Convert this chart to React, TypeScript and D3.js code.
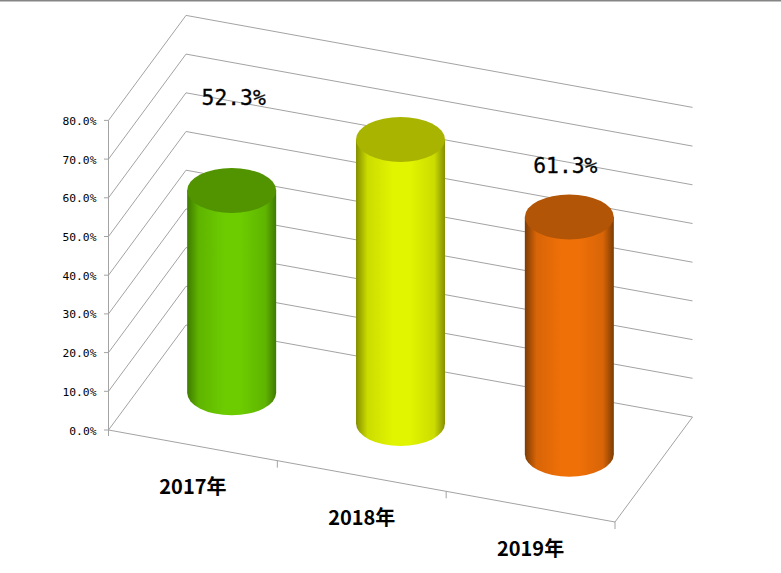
import React from "react";
import * as d3 from "d3";

const categories = ["2017年", "2018年", "2019年"];
const values = [52.3, 73.4, 61.3];
const barLabels = ["52.3%", null, "61.3%"];
const tickValues = [0, 10, 20, 30, 40, 50, 60, 70, 80];
const barColors = [
  { bright: "#6ccc00", mid: "#5fb400", edge: "#3f7a00", top: "#529300" },
  { bright: "#e2f500", mid: "#cbdc00", edge: "#858f00", top: "#a9b400" },
  { bright: "#f07008", mid: "#d86507", edge: "#7c3b04", top: "#b25506" },
];
const labelLift = [93, 0, 52];
const labelShift = [2, 0, -4];

const origin = { x: 108.5, y: 430 };
const widthVec = { x: 506.5, y: 92 };
const depthVec = { x: 77.5, y: -105 };
const rx = 44.5;
const ry = 22.5;
const gridColor = "#a3a3a3";

const yHeight = d3.scaleLinear().domain([0, 80]).range([0, 309.6]);
const xBand = d3.scaleBand<string>().domain(categories).range([0, 1]);

const project = (u: number, v: number, value = 0) => ({
  x: origin.x + widthVec.x * u + depthVec.x * v,
  y: origin.y + widthVec.y * u + depthVec.y * v - yHeight(value),
});

const seg = (a: { x: number; y: number }, b: { x: number; y: number }) =>
  d3.line()([[a.x, a.y], [b.x, b.y]]) as string;

const cylinderBody = (cx: number, top: number, bottom: number) =>
  `M${cx - rx},${top}L${cx - rx},${bottom}A${rx},${ry} 0 0 0 ${cx + rx},${bottom}L${cx + rx},${top}Z`;

export default function App() {
  return (
    <svg width={781} height={573} style={{ position: "absolute", left: 0, top: 0, background: "#fff" }}>
      <defs>
        {barColors.map((c, i) => (
          <linearGradient key={i} id={`bar${i}`} x1="0" x2="1" y1="0" y2="0">
            <stop offset="0" stopColor={c.edge} />
            <stop offset="0.13" stopColor={c.mid} />
            <stop offset="0.42" stopColor={c.bright} />
            <stop offset="0.6" stopColor={c.bright} />
            <stop offset="0.88" stopColor={c.mid} />
            <stop offset="1" stopColor={c.edge} />
          </linearGradient>
        ))}
      </defs>
      <rect x={0} y={0} width={781} height={1.5} fill="#858585" />
      <g fill="none" stroke={gridColor} strokeWidth={1}>
        {tickValues.map((t) => (
          <g key={t}>
            <path d={seg(project(0, 0, t), project(0, 1, t))} />
            <path d={seg(project(0, 1, t), project(1, 1, t))} />
            <path d={seg({ x: origin.x - 4.5, y: project(0, 0, t).y }, project(0, 0, t))} />
          </g>
        ))}
        <path d={seg(project(0, 0, 80), { x: origin.x, y: origin.y + 6 })} />
        <path d={seg(project(0, 0), project(1, 0))} />
        <path d={seg(project(1, 0), project(1, 1))} />
        {categories.map((c, i) => {
          const p = project((i + 1) / 3, 0);
          return <path key={c} d={seg(p, { x: p.x, y: p.y + 7 })} />;
        })}
      </g>
      {tickValues.map((t) => (
        <text key={t} x={96.5} y={project(0, 0, t).y + 4.5} textAnchor="end"
          fontFamily="'DejaVu Sans Mono'" fontSize={11.3} fill="#000">
          {t.toFixed(1)}%
        </text>
      ))}
      {categories.map((c, i) => {
        const u = (xBand(c) as number) + xBand.bandwidth() / 2;
        const base = project(u, 0.5);
        const topC = project(u, 0.5, values[i]);
        return (
          <g key={c}>
            <path d={cylinderBody(base.x, topC.y, base.y)} fill={`url(#bar${i})`} />
            <ellipse cx={topC.x} cy={topC.y} rx={rx} ry={ry} fill={barColors[i].top} />
          </g>
        );
      })}
      {categories.map((c, i) => {
        const u = (xBand(c) as number) + xBand.bandwidth() / 2;
        const p = project(u, 0);
        return (
          <text key={c} x={p.x} y={p.y + 49} textAnchor="middle"
            fontFamily="'Noto Sans CJK SC'" fontWeight={700} fontSize={20} fill="#000">
            {c}
          </text>
        );
      })}
      {barLabels.map((l, i) => {
        if (!l) return null;
        const u = (xBand(categories[i]) as number) + xBand.bandwidth() / 2;
        const t = project(u, 0.5, values[i]);
        return (
          <text key={l} x={t.x + labelShift[i]} y={t.y - labelLift[i] + 8} textAnchor="middle"
            fontFamily="'DejaVu Sans Mono'" fontSize={21.3} stroke="#000" strokeWidth={0.3} fill="#000">
            {l}
          </text>
        );
      })}
    </svg>
  );
}
